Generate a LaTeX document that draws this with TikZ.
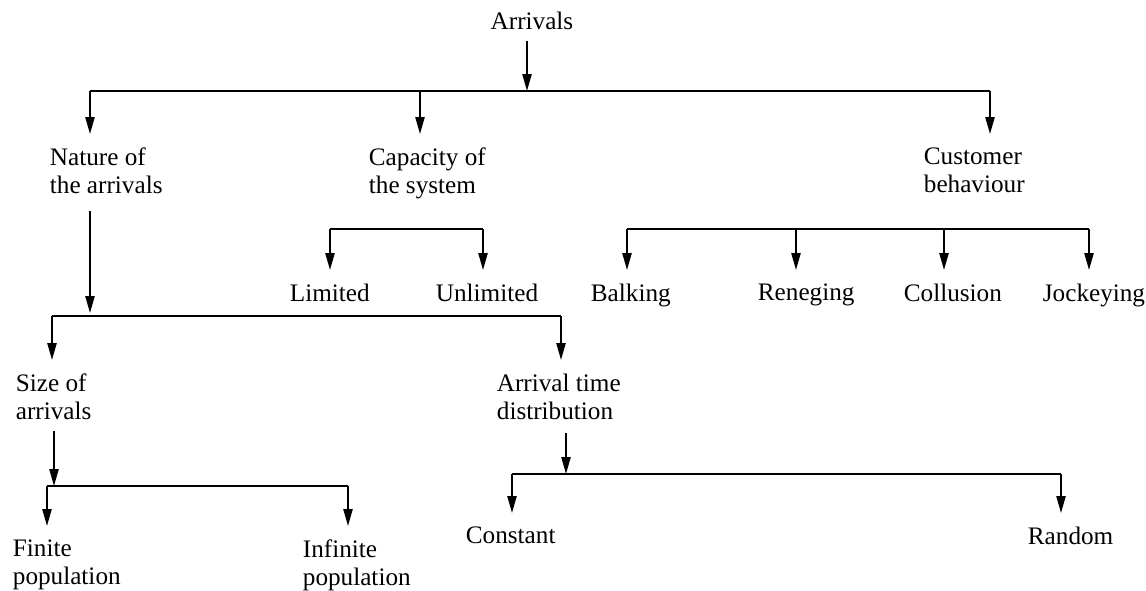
\documentclass[tikz,border=0pt]{standalone}
\usepackage{fontspec}
\setmainfont{Liberation Serif}
\usetikzlibrary{arrows.meta, positioning}

\begin{document}
\begin{tikzpicture}[x=0.5pt, y=-0.5pt, line width=0.9pt,
  every node/.style={font=\fontsize{12.6}{14}\selectfont},
  txt/.style={inner sep=0pt, align=left, anchor=north west},
  arr/.style={-{Triangle[length=8.5pt,width=4.6pt]}},
  drop/.style={arr, shorten >=6.5pt}]
  \useasboundingbox (0,0) rectangle (1146,590);

  % labels
  \node[txt, anchor=north] (arrivals) at (532,11) {Arrivals};
  \node[txt] (nature) at (49,147) {Nature of\\the arrivals};
  \node[txt] (capacity) at (368,147) {Capacity of\\the system};
  \node[txt] (customer) at (923,147) {Customer\\behaviour};
  \node[txt] (limited) at (289,283) {Limited};
  \node[txt] (unlimited) at (435,283) {Unlimited};
  \node[txt] (balking) at (590,283) {Balking};
  \node[txt] (reneging) at (757,283) {Reneging};
  \node[txt] (collusion) at (903,283) {Collusion};
  \node[txt] (jockeying) at (1042,283) {Jockeying};
  \node[txt] (size) at (15,373) {Size of\\arrivals};
  \node[txt] (arrtime) at (496,373) {Arrival time\\distribution};
  \node[txt] (finite) at (12,539) {Finite\\population};
  \node[txt] (infinite) at (302,539) {Infinite\\population};
  \node[txt] (constant) at (465,526) {Constant};
  \node[txt] (random) at (1027,526) {Random};

  % bus ends
  \coordinate (top) at (527,91);
  \coordinate (b1w) at (90,91);
  \coordinate (b1c) at (420,91);
  \coordinate (b1e) at (990,91);
  \coordinate (capl) at (330,229);
  \coordinate (capr) at (483,229);
  \coordinate (cus1) at (627,229);
  \coordinate (cus2) at (796,229);
  \coordinate (cus3) at (944,229);
  \coordinate (cus4) at (1089,229);
  \coordinate (nat) at (90,316);
  \coordinate (b2w) at (52,316);
  \coordinate (b2e) at (561,316);
  \coordinate (siz) at (54,486);
  \coordinate (b3w) at (47,486);
  \coordinate (b3e) at (348,486);
  \coordinate (arr) at (566,474);
  \coordinate (b4w) at (512,474);
  \coordinate (b4e) at (1061,474);

  % arrivals
  \draw[arr, shorten <=5pt] (arrivals.south -| top) -- (top);
  \draw (b1w) -- (b1e);
  \draw[drop] (b1w) -- (nature.north -| b1w);
  \draw[drop] (b1c) -- (capacity.north -| b1c);
  \draw[drop] (b1e) -- (customer.north -| b1e);

  % capacity
  \draw (capl) -- (capr);
  \draw[drop] (capl) -- (limited.north -| capl);
  \draw[drop] (capr) -- (unlimited.north -| capr);

  % customer behaviour
  \draw (cus1) -- (cus4);
  \draw[drop] (cus1) -- (balking.north -| cus1);
  \draw[drop] (cus2) -- (reneging.north -| cus2);
  \draw[drop] (cus3) -- (collusion.north -| cus3);
  \draw[drop] (cus4) -- (jockeying.north -| cus4);

  % nature of the arrivals
  \draw[arr, shorten <=8pt, shorten >=1.5pt] (nature.south -| nat) -- (nat);
  \draw (b2w) -- (b2e);
  \draw[drop] (b2w) -- (size.north -| b2w);
  \draw[drop] (b2e) -- (arrtime.north -| b2e);

  % size of arrivals
  \draw[arr, shorten <=5pt] (size.south -| siz) -- (siz);
  \draw (b3w) -- (b3e);
  \draw[drop] (b3w) -- (finite.north -| b3w);
  \draw[drop] (b3e) -- (infinite.north -| b3e);

  % arrival time distribution
  \draw[arr, shorten <=6pt] (arrtime.south -| arr) -- (arr);
  \draw (b4w) -- (b4e);
  \draw[drop] (b4w) -- (constant.north -| b4w);
  \draw[drop] (b4e) -- (random.north -| b4e);
\end{tikzpicture}
\end{document}
